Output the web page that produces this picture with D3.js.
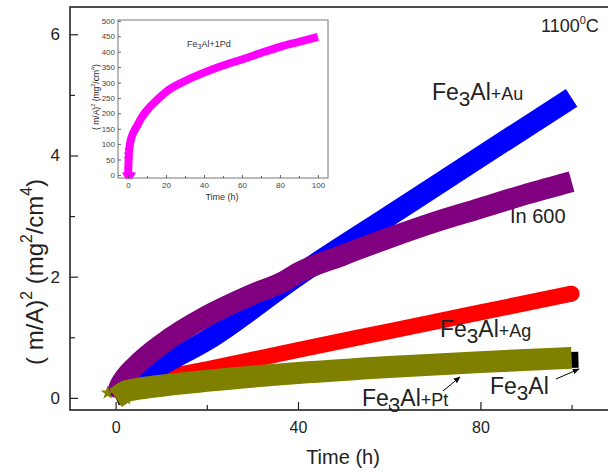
<html>
<head>
<title>Oxidation kinetics 1100C</title>
<script src="https://d3js.org/d3.v7.min.js"></script>
<style>
    body { margin: 0; background: #fff; }
    text { font-family: "Liberation Sans", Arial, sans-serif; }
</style>
</head>
<body>
<div id="chart"></div>
<script type="text/javascript">
    // Data ***********************
    var auTime = [0, 2, 5, 10, 20, 40, 60, 80, 100];
    var auGain = [0, 0.15, 0.32, 0.54, 0.95, 2.02, 3.0, 3.98, 4.95];

    var in600Time = [0, 1, 2, 5, 10, 20, 30, 38, 38.6, 50, 60, 70, 80, 90, 100];
    var in600Gain = [0, 0.21, 0.33, 0.57, 0.88, 1.35, 1.71, 1.97, 2.0, 2.36, 2.64, 2.90, 3.13, 3.36, 3.57];

    var agTime = [1, 5, 10, 20, 40, 60, 80, 100];
    var agGain = [0.05, 0.2, 0.32, 0.47, 0.79, 1.1, 1.41, 1.72];

    var ptTime = [0, 1, 2, 5, 10, 20, 40, 60, 80, 100];
    var ptGain = [0, 0.05, 0.1, 0.15, 0.2, 0.28, 0.41, 0.51, 0.59, 0.66];

    var feTime = [0, 5, 10, 20, 40, 60, 80, 101.5];
    var feGain = [0, 0.14, 0.19, 0.27, 0.40, 0.50, 0.58, 0.63];

    var pdTime = [0, 0.3, 0.6, 1, 2, 3, 5, 7, 10, 15, 20, 30, 40, 50, 60, 70, 80, 90, 100];
    var pdGain = [0, 50, 80, 100, 125, 140, 162, 185, 210, 242, 270, 305, 332, 355, 375, 396, 416, 432, 448];
    var pdStartTime = [-1, 0, 1, 2, 0, 0, 0.3];
    var pdStartGain = [0, 0, 0, 0, 50, 65, 80];

    var mainXTicks = [0, 40, 80];
    var mainXMinor = [20, 60, 100];
    var mainYTicks = [0, 2, 4, 6];
    var mainYMinor = [1, 3, 5];
    var insetXTicks = [0, 20, 40, 60, 80, 100];
    var insetXMinor = [10, 30, 50, 70, 90];
    var insetYTicks = [0, 50, 100, 150, 200, 250, 300, 350, 400, 450, 500];

    // Layout ***********************
    var W = 608, H = 472;
    var frame = {left: 70, top: 7, right: 616, bottom: 410};
    var inset = {left: 118, top: 20, right: 328, bottom: 178};

    var svg = d3.select("#chart").append("svg")
        .attr("width", W)
        .attr("height", H);

    svg.append("rect").attr("width", W).attr("height", H).attr("fill", "#fff");

    var defs = svg.append("defs");
    defs.append("marker")
        .attr("id", "arrow")
        .attr("viewBox", "0 0 10 10")
        .attr("refX", 9).attr("refY", 5)
        .attr("markerWidth", 7).attr("markerHeight", 7)
        .attr("orient", "auto")
        .append("path")
        .attr("d", "M0,1 L10,5 L0,9 z")
        .attr("fill", "#000");

    // Main scales
    var x = d3.scaleLinear().domain([-10, 120]).range([frame.left, frame.left + 130 * 4.56]);
    var y = d3.scaleLinear().domain([-0.2, 6.45]).range([frame.bottom, frame.top]);

    // Series, bottom to top
    function zipped(t, v) {
        return t.map(function (d, i) { return [d, v[i]]; });
    }

    function band(g, t, v, color, width, cap, sx, sy) {
        var line = d3.line()
            .curve(d3.curveMonotoneX)
            .x(function (d) { return sx(d[0]); })
            .y(function (d) { return sy(d[1]); });
        g.append("path")
            .datum(zipped(t, v))
            .attr("fill", "none")
            .attr("stroke", color)
            .attr("stroke-width", width)
            .attr("stroke-linecap", cap)
            .attr("stroke-linejoin", "round")
            .attr("d", line);
    }

    var plot = svg.append("g");
    band(plot, feTime, feGain, "#000000", 16, "butt", x, y);
    band(plot, agTime, agGain, "#ff0000", 16, "butt", x, y);
    // rounded end of the red series
    plot.append("circle")
        .attr("cx", x(agTime[agTime.length - 1]))
        .attr("cy", y(agGain[agGain.length - 1]))
        .attr("r", 8)
        .attr("fill", "#ff0000");
    band(plot, auTime, auGain, "#0000ff", 21, "butt", x, y);
    band(plot, in600Time, in600Gain, "#800080", 21, "butt", x, y);
    band(plot, ptTime, ptGain, "#808000", 22, "butt", x, y);

    // a few star markers at the start of the olive series
    plot.selectAll(".ptstar")
        .data(zipped(ptTime, ptGain).slice(0, 2))
        .enter().append("path")
        .attr("d", d3.symbol().type(d3.symbolStar).size(60))
        .attr("transform", function (d, i) { return "translate(" + (x(d[0]) - 8 + i * 14) + "," + (y(d[1]) - 5 + i * 9) + ")"; })
        .attr("fill", "#808000");

    // Frame and axes
    svg.append("rect")
        .attr("x", frame.left).attr("y", frame.top)
        .attr("width", frame.right - frame.left)
        .attr("height", frame.bottom - frame.top)
        .attr("fill", "none")
        .attr("stroke", "#222")
        .attr("stroke-width", 1.6);

    function styleAxis(g, size, color) {
        g.select(".domain").remove();
        g.selectAll("line").attr("stroke", color).attr("stroke-width", 1.2);
        g.selectAll("text").attr("font-size", size).attr("fill", color)
            .attr("font-family", "Liberation Sans, Arial, sans-serif");
    }

    var fmt = d3.format("d");
    var xAxis = svg.append("g")
        .attr("transform", "translate(0," + frame.bottom + ")")
        .call(d3.axisBottom(x).tickValues(mainXTicks).tickFormat(fmt).tickSize(-8).tickPadding(12));
    styleAxis(xAxis, 16, "#222");
    var xMinor = svg.append("g")
        .attr("transform", "translate(0," + frame.bottom + ")")
        .call(d3.axisBottom(x).tickValues(mainXMinor).tickSize(-5).tickFormat(""));
    styleAxis(xMinor, 16, "#222");

    var yAxis = svg.append("g")
        .attr("transform", "translate(" + frame.left + ",0)")
        .call(d3.axisLeft(y).tickValues(mainYTicks).tickFormat(fmt).tickSize(-8).tickPadding(10));
    styleAxis(yAxis, 17, "#222");
    var yMinor = svg.append("g")
        .attr("transform", "translate(" + frame.left + ",0)")
        .call(d3.axisLeft(y).tickValues(mainYMinor).tickSize(-5).tickFormat(""));
    styleAxis(yMinor, 17, "#222");

    // Axis titles
    svg.append("text")
        .attr("x", 343).attr("y", 464)
        .attr("text-anchor", "middle")
        .attr("font-size", 20)
        .attr("fill", "#222")
        .text("Time (h)");

    function yTitle(g, px, py, size) {
        var t = g.append("text")
            .attr("transform", "translate(" + px + "," + py + ") rotate(-90)")
            .attr("text-anchor", "middle")
            .attr("font-size", size)
            .attr("fill", "#222");
        t.append("tspan").text("( m/A)");
        t.append("tspan").attr("dy", -size * 0.45).attr("font-size", size * 0.65).text("2");
        t.append("tspan").attr("dy", size * 0.45).text(" (mg");
        t.append("tspan").attr("dy", -size * 0.45).attr("font-size", size * 0.65).text("2");
        t.append("tspan").attr("dy", size * 0.45).text("/cm");
        t.append("tspan").attr("dy", -size * 0.45).attr("font-size", size * 0.65).text("4");
        t.append("tspan").attr("dy", size * 0.45).text(")");
    }
    yTitle(svg, 43, 272, 24);

    // Labels
    function feLabel(px, py, suffix, size) {
        var t = svg.append("text")
            .attr("x", px).attr("y", py)
            .attr("font-size", size)
            .attr("fill", "#222");
        t.append("tspan").text("Fe");
        t.append("tspan").attr("dy", 6).attr("font-size", size * 0.9).text("3");
        t.append("tspan").attr("dy", -6).text("Al");
        if (suffix) t.append("tspan").attr("font-size", size * 0.78).text(suffix);
    }
    feLabel(432, 100, "+Au", 23);
    feLabel(440, 337, "+Ag", 23);
    feLabel(490, 394, null, 23);
    feLabel(362, 406, "+Pt", 23);

    svg.append("text")
        .attr("x", 510).attr("y", 223)
        .attr("font-size", 20)
        .attr("fill", "#222")
        .text("In 600");

    var temp = svg.append("text")
        .attr("x", 541).attr("y", 32)
        .attr("font-size", 18)
        .attr("fill", "#222");
    temp.append("tspan").text("1100");
    temp.append("tspan").attr("dy", -8).attr("font-size", 11).text("0");
    temp.append("tspan").attr("dy", 8).text("C");

    // Arrows
    function arrow(x1, y1, x2, y2) {
        svg.append("line")
            .attr("x1", x1).attr("y1", y1)
            .attr("x2", x2).attr("y2", y2)
            .attr("stroke", "#000")
            .attr("stroke-width", 1)
            .attr("marker-end", "url(#arrow)");
    }
    arrow(443, 391, 460, 377);
    arrow(556, 379, 579, 369);

    // Inset ***********************
    var ix = d3.scaleLinear().domain([-5.3, 105.3]).range([inset.left, inset.right]);
    var iy = d3.scaleLinear().domain([-10, 503]).range([inset.bottom, inset.top]);

    var ig = svg.append("g");
    band(ig, pdTime, pdGain, "#ff00ff", 8, "butt", ix, iy);
    ig.selectAll(".tri")
        .data(zipped(pdStartTime, pdStartGain))
        .enter().append("path")
        .attr("d", d3.symbol().type(d3.symbolTriangle).size(30))
        .attr("transform", function (d) { return "translate(" + ix(d[0]) + "," + iy(d[1]) + ") rotate(180)"; })
        .attr("fill", "#ff00ff");

    ig.append("rect")
        .attr("x", inset.left).attr("y", inset.top)
        .attr("width", inset.right - inset.left)
        .attr("height", inset.bottom - inset.top)
        .attr("fill", "none")
        .attr("stroke", "#777")
        .attr("stroke-width", 1);

    var ixAxis = ig.append("g")
        .attr("transform", "translate(0," + inset.bottom + ")")
        .call(d3.axisBottom(ix).tickValues(insetXTicks).tickSize(-3).tickPadding(4));
    styleAxis(ixAxis, 8, "#444");
    var ixMinor = ig.append("g")
        .attr("transform", "translate(0," + inset.bottom + ")")
        .call(d3.axisBottom(ix).tickValues(insetXMinor).tickSize(-2).tickFormat(""));
    styleAxis(ixMinor, 8, "#444");
    var iyAxis = ig.append("g")
        .attr("transform", "translate(" + inset.left + ",0)")
        .call(d3.axisLeft(iy).tickValues(insetYTicks).tickSize(-3).tickPadding(3));
    styleAxis(iyAxis, 8, "#444");
    ig.selectAll("line").attr("stroke-width", 0.8);

    ig.append("text")
        .attr("x", 222).attr("y", 200)
        .attr("text-anchor", "middle")
        .attr("font-size", 9)
        .attr("fill", "#333")
        .text("Time (h)");
    yTitle(ig, 99, 97, 8.5);

    var pd = ig.append("text")
        .attr("x", 187).attr("y", 47)
        .attr("font-size", 9)
        .attr("fill", "#333");
    pd.append("tspan").text("Fe");
    pd.append("tspan").attr("dy", 2).attr("font-size", 7).text("3");
    pd.append("tspan").attr("dy", -2).text("Al+1Pd");
</script>
</body>
</html>
